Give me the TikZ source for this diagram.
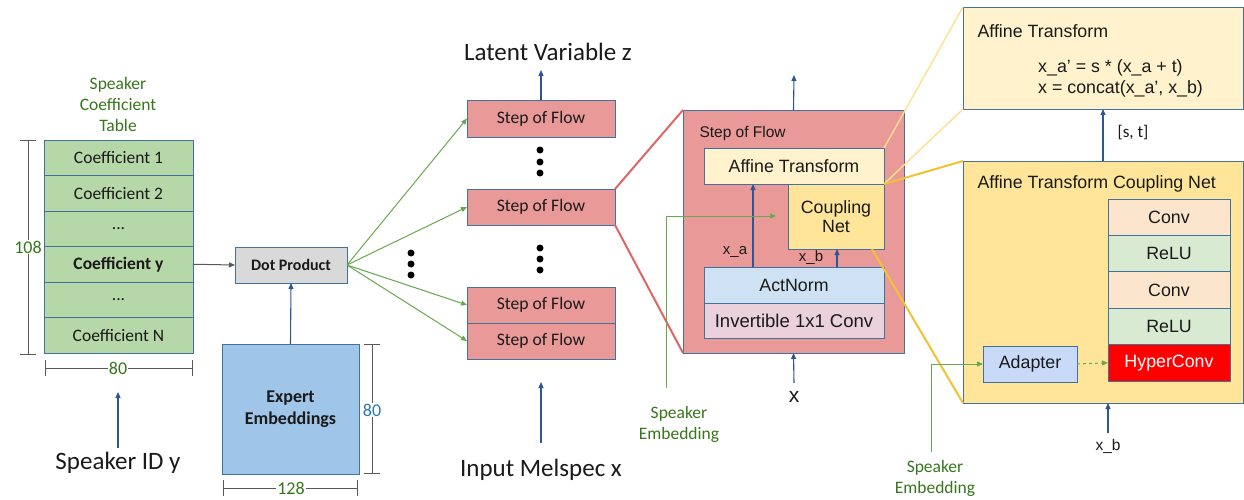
\documentclass[tikz,border=0pt]{standalone}
\usepackage{fontspec}
\setmainfont{Carlito}
\newfontfamily\arial{Liberation Sans}
\usetikzlibrary{arrows.meta}
\definecolor{bord}{HTML}{41719C}
\definecolor{tgreen}{HTML}{B6D7A8}
\definecolor{dpgray}{HTML}{D9D9D9}
\definecolor{expblue}{HTML}{9FC5E8}
\definecolor{sofred}{HTML}{EA9999}
\definecolor{affy}{HTML}{FFF2CC}
\definecolor{cply}{HTML}{FFE599}
\definecolor{actb}{HTML}{CFE2F3}
\definecolor{invp}{HTML}{EAD1DC}
\definecolor{convo}{HTML}{FCE5CD}
\definecolor{relug}{HTML}{D9EAD3}
\definecolor{adab}{HTML}{C9DAF8}
\definecolor{goldl}{HTML}{F1C232}
\definecolor{lyel}{HTML}{FFE08F}
\definecolor{redl}{HTML}{E06666}
\definecolor{grl}{HTML}{6AA84F}
\definecolor{grt}{HTML}{38761D}
\definecolor{dimg}{HTML}{595959}
\definecolor{darrow}{HTML}{2F5597}
\definecolor{dimblue}{HTML}{2E75B6}
\definecolor{txt}{HTML}{1A1A1A}
\begin{document}
\begin{tikzpicture}[x=1pt,y=-1pt,
  bx/.style={draw=bord, line width=0.8pt, inner sep=0pt, outer sep=0pt, anchor=north west, align=center, text=txt},
  cal/.style={font=\fontsize{17.5}{20}\selectfont},
  calb/.style={font=\fontsize{16}{19}\selectfont\bfseries},
  ar/.style={font=\arial\fontsize{17.8}{21}\selectfont},
  big/.style={font=\fontsize{25}{29}\selectfont, text=txt},
  gtxt/.style={font=\fontsize{17.5}{21}\selectfont, text=grt, align=center},
  barr/.style={draw=darrow, line width=1.1pt, -{Triangle[length=6pt,width=5pt]}},
  garr/.style={draw=grl, line width=1pt, -{Triangle[length=6pt,width=5pt]}},
  dim/.style={draw=dimg, line width=1pt, {Bar[width=16pt]}-{Bar[width=16pt]}},
  dimlab/.style={fill=white, inner sep=1pt, font=\fontsize{18}{20}\selectfont, text=grt},
  dot/.style={fill=black, draw=none, circle, minimum size=7pt, inner sep=0pt}
]
\useasboundingbox (0,0) rectangle (1244,500);
\fill[white] (0,0) rectangle (1244,500);

% ---- Speaker coefficient table
\node[gtxt] (tt) at (118,104) {Speaker\\Coefficient\\Table};
\node[bx, cal, fill=tgreen, minimum width=149pt, minimum height=35.5pt] (c1) at (44,140) {Coefficient 1};
\node[bx, cal, fill=tgreen, minimum width=149pt, minimum height=35.5pt] (c2) at (44,175.5) {Coefficient 2};
\node[bx, cal, fill=tgreen, minimum width=149pt, minimum height=35.5pt] (c3) at (44,211) {...};
\node[bx, font=\fontsize{17.5}{20}\selectfont\bfseries, fill=tgreen, minimum width=149pt, minimum height=35.5pt] (cy) at (44,246.5) {Coefficient y};
\node[bx, cal, fill=tgreen, minimum width=149pt, minimum height=35.5pt] (c5) at (44,282) {...};
\node[bx, cal, fill=tgreen, minimum width=149pt, minimum height=35.5pt] (cn) at (44,317.5) {Coefficient N};
\draw[dim] (28,140) -- (28,355);
\node[dimlab] at (28,247) {108};
\draw[dim] (45,368) -- (193,368);
\node[dimlab] at (118,368) {80};
\node[big] (sid) at (118,463) {Speaker ID y};
\coordinate (sidt) at (118,448);
\draw[barr] (sidt) -- (118,392);

% ---- Dot product and expert
\node[bx, calb, fill=dpgray, minimum width=112pt, minimum height=36pt] (dp) at (235,247) {Dot Product};
\draw[draw=dimg, line width=1pt, -{Triangle[length=6pt,width=5pt]}] (cy.east) -- (dp.west);
\node[bx, font=\fontsize{18}{22}\selectfont\bfseries, fill=expblue, minimum width=137pt, minimum height=130pt] (ex) at (222,344) {Expert\\Embeddings};
\draw[barr] (ex.north) -- (dp.south);
\draw[dim] (372,344) -- (372,474);
\node[dimlab, text=dimblue] at (372,410) {80};
\draw[dim] (223,488) -- (358,488);
\node[dimlab] at (291,488) {128};
\node[dot] at (411,253) {};
\node[dot] at (411,264) {};
\node[dot] at (411,275) {};

% ---- Steps of flow column
\node[bx, font=\fontsize{17.6}{20}\selectfont, fill=sofred, minimum width=148pt, minimum height=37pt] (s1) at (467,100) {Step of Flow};
\node[bx, font=\fontsize{17.6}{20}\selectfont, fill=sofred, minimum width=148pt, minimum height=36pt] (s2) at (467,189) {Step of Flow};
\node[bx, font=\fontsize{17.6}{20}\selectfont, fill=sofred, minimum width=148pt, minimum height=36pt] (s3) at (467,287) {Step of Flow};
\node[bx, font=\fontsize{17.6}{20}\selectfont, fill=sofred, minimum width=148pt, minimum height=36pt] (s4) at (467,323) {Step of Flow};
\node[dot] at (540,150) {};
\node[dot] at (540,162) {};
\node[dot] at (540,173) {};
\node[dot] at (540,248) {};
\node[dot] at (540,259) {};
\node[dot] at (540,270) {};
\node[big] (lz) at (548,52) {Latent Variable z};
\coordinate (lzb) at (541,70);
\draw[barr] (s1.north) -- (lzb);
\node[big] (im) at (541,470) {Input Melspec x};
\coordinate (imt) at (541,443);
\draw[barr] (imt) -- (541,382);
\draw[garr] (dp.east) -- (s1.west);
\draw[garr] (dp.east) -- (s2.west);
\draw[garr] (dp.east) -- (s3.west);
\draw[garr] (dp.east) -- (s4.west);

% ---- Big step of flow
\node[bx, fill=sofred, minimum width=221pt, minimum height=243pt] (sof) at (683,110) {};
\draw[draw=redl, line width=2pt] (s2.north east) -- (sof.north west);
\draw[draw=redl, line width=2pt] (s2.south east) -- (sof.south west);
\node[anchor=west, font=\arial\fontsize{15.5}{18}\selectfont, text=txt] (sofl) at (696,133) {Step of Flow};
\coordinate (sofz) at (794,75);
\draw[barr] (sof.north) -- (sofz);
\node[font=\arial\fontsize{21}{24}\selectfont, text=txt] (xin) at (794,397) {x};
\coordinate (xint) at (794,383);
\draw[barr] (xint) -- (sof.south);

\coordinate (cnse) at (872,249);

% inner boxes
\node[bx, ar, fill=affy, minimum width=180pt, minimum height=36pt] (at) at (704,148) {Affine Transform};
\node[bx, ar, fill=cply, minimum width=96pt, minimum height=65pt] (cpl) at (788,184) {Coupling\\[-2pt]Net};
\node[bx, ar, fill=actb, minimum width=180pt, minimum height=36pt] (an) at (704,267) {ActNorm};
\node[bx, ar, font=\arial\fontsize{18.5}{21}\selectfont, fill=invp, minimum width=180pt, minimum height=35pt] (inv) at (704,303) {Invertible 1x1 Conv};
\draw[barr] ([xshift=49pt]an.north west) -- ([xshift=49pt]at.south west);
\draw[barr] ([xshift=-47pt]an.north east) -- ([xshift=-47pt]an.north east |- cpl.south);
\node[font=\arial\fontsize{15}{18}\selectfont, text=txt] (xa) at (735,252) {x\_a};
\node[font=\arial\fontsize{15}{18}\selectfont, text=txt] (xb) at (811,258) {x\_b};
\node[gtxt] (se1) at (679,424) {Speaker\\Embedding};
\coordinate (g1) at (666,388);
\coordinate (g2) at (776,216);
\draw[garr] (g1) |- (g2);

% ---- right side: Affine transform
\node[bx, fill=affy, minimum width=280pt, minimum height=102pt] (ra) at (963,7) {};
\node[anchor=west, ar, text=txt] (ral) at (974,31) {Affine Transform};
\node[anchor=north west, ar, text=txt, align=left, inner sep=0pt] (eq) at (1038,59) {x\_a’ = s * (x\_a + t)\\x = concat(x\_a’, x\_b)};
\draw[draw=lyel, line width=1.4pt] (at.north east) -- (ra.north west);
\draw[draw=lyel, line width=1.4pt] (at.south east) -- (ra.south west);

% coupling net big
\node[bx, fill=cply, minimum width=280pt, minimum height=242pt] (cpn) at (963,161) {};
\draw[draw=goldl, line width=2pt] (at.south east) -- (cpn.north west);
\draw[draw=goldl, line width=2pt] (cnse) -- (cpn.south west);
\node[anchor=west, ar, text=txt] (cpnl) at (974,184) {Affine Transform Coupling Net};
\draw[barr] (cpn.north) -- (ra.south);
\node[anchor=west, font=\fontsize{17}{19}\selectfont, text=txt] (st) at (1114,133) {[s, t]};
\node[bx, ar, fill=convo, minimum width=122pt, minimum height=36.4pt] (k1) at (1108,199) {Conv};
\node[bx, ar, fill=relug, minimum width=122pt, minimum height=36.4pt] (k2) at (1108,235.4) {ReLU};
\node[bx, ar, fill=convo, minimum width=122pt, minimum height=36.4pt] (k3) at (1108,271.8) {Conv};
\node[bx, ar, fill=relug, minimum width=122pt, minimum height=36.4pt] (k4) at (1108,308.2) {ReLU};
\node[bx, ar, fill=red, text=white, minimum width=122pt, minimum height=36.4pt] (k5) at (1108,344.6) {HyperConv};
\node[bx, ar, fill=adab, minimum width=94pt, minimum height=36pt] (ad) at (983,346) {Adapter};
\draw[garr, dashed] (ad.east) -- (k5.west);
\node[gtxt] (se2) at (935,478) {Speaker\\Embedding};
\coordinate (g3) at (931,452);
\draw[garr] (g3) |- (ad.west);
\node[font=\arial\fontsize{15.5}{18}\selectfont, text=txt] (xb2) at (1108,446) {x\_b};
\coordinate (xb2t) at (1108,433);
\draw[barr] (xb2t) -- (1108,403);
\end{tikzpicture}
\end{document}
